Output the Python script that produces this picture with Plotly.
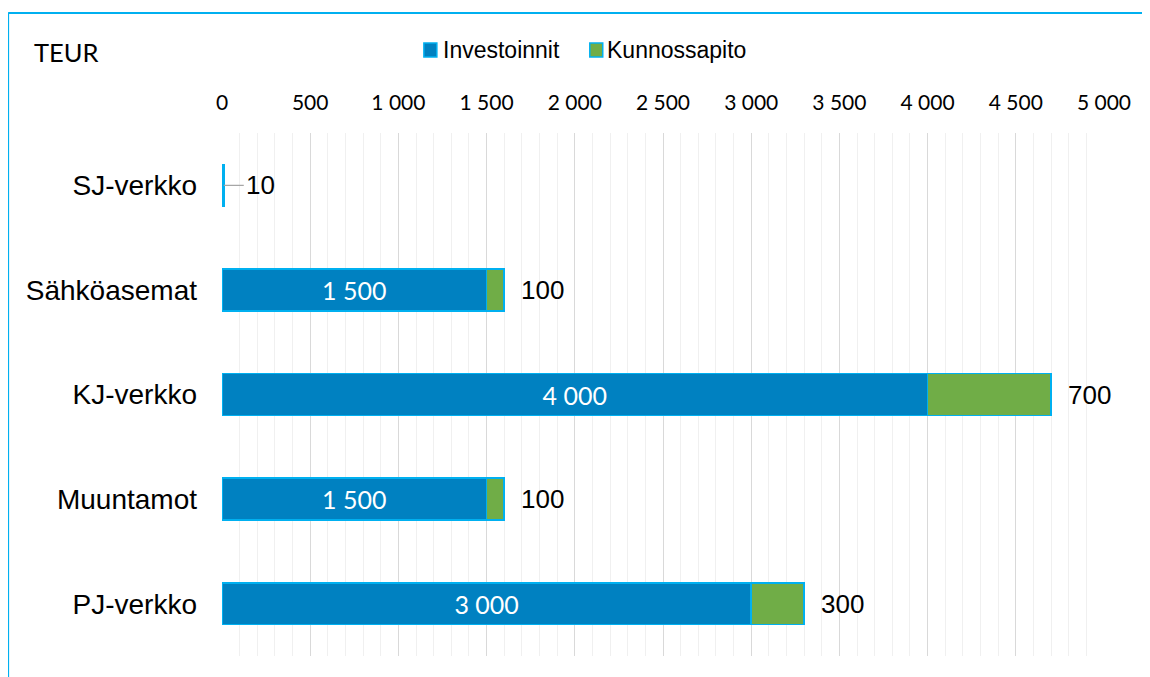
import plotly.graph_objects as go

categories = ["SJ-verkko", "Sähköasemat", "KJ-verkko", "Muuntamot", "PJ-verkko"]
investoinnit = [0, 1500, 4000, 1500, 3000]
kunnossapito = [10, 100, 700, 100, 300]
x_ticks = [0, 500, 1000, 1500, 2000, 2500, 3000, 3500, 4000, 4500, 5000]
series_names = ["Investoinnit", "Kunnossapito"]
unit_label = "TEUR"

BLUE = "#0081C1"
GREEN = "#70AD47"
EDGE = "#00B0F0"

fig = go.Figure()
fig.add_trace(go.Bar(
    y=categories, x=investoinnit, name=series_names[0], orientation="h",
    marker=dict(color=BLUE, line=dict(color=EDGE, width=1.5)),
    texttemplate=["%{x:,d}" if v > 0 else "" for v in investoinnit],
    textposition="inside", insidetextanchor="middle",
    textfont=dict(color="white", size=25, family="Lato"),
    hoverinfo="skip", showlegend=False,
))
fig.add_trace(go.Bar(
    y=categories, x=kunnossapito, name=series_names[1], orientation="h",
    marker=dict(color=GREEN, line=dict(color=EDGE, width=1.5)),
    textposition="none", hoverinfo="skip", showlegend=False,
))

for cat, inv, k in zip(categories, investoinnit, kunnossapito):
    total = inv + k
    if inv == 0:
        fig.add_annotation(x=total, y=cat, xref="x", yref="y", text=str(k),
                           showarrow=True, ax=20, ay=0, xanchor="left",
                           arrowhead=0, arrowwidth=1.2, arrowcolor="#A6A6A6",
                           standoff=0, font=dict(size=26, family="Arial", color="black"))
    else:
        fig.add_annotation(x=total, y=cat, xref="x", yref="y", text=str(k),
                           showarrow=False, xanchor="left", xshift=15,
                           font=dict(size=26, family="Arial", color="black"))

fig.add_annotation(x=-0.2153, y=1.1549, xref="paper", yref="paper", text=unit_label,
                   showarrow=False, xanchor="left", yanchor="middle",
                   font=dict(size=25.5, family="Lato", color="black"))

# custom legend (swatch + label)
legend_items = [(series_names[0], BLUE, 0.2289, 0.2436, 0.2504),
                (series_names[1], GREEN, 0.4170, 0.4317, 0.4363)]
for name, col, sx0, sx1, tx in legend_items:
    fig.add_shape(type="rect", xref="paper", yref="paper", x0=sx0, x1=sx1,
                  y0=1.1453, y1=1.1721, fillcolor=col, line=dict(color=EDGE, width=1.5))
    fig.add_annotation(x=tx, y=1.1587, xref="paper", yref="paper", text=name,
                       showarrow=False, xanchor="left", yanchor="middle", xshift=-2,
                       font=dict(size=23, family="Arial", color="black"))

# outer frame (left and top edges visible)
fig.add_shape(type="line", xref="paper", yref="paper", x0=-0.2425, x1=-0.2425,
              y0=1.2294, y1=-0.2, line=dict(color=EDGE, width=2))
fig.add_shape(type="line", xref="paper", yref="paper", x0=-0.2425, x1=1.2,
              y0=1.2294, y1=1.2294, line=dict(color=EDGE, width=2))

fig.update_layout(
    width=1142, height=669,
    margin=dict(l=214, r=45.5, t=125, b=21),
    paper_bgcolor="white", plot_bgcolor="white",
    barmode="stack", bargap=0.6,
    separators=", ",
    showlegend=False,
    xaxis=dict(side="top", range=[0, 5000], tickvals=x_ticks, tickformat=",d",
               showgrid=True, gridcolor="#D9D9D9", gridwidth=1, zeroline=False,
               ticks="", ticklabelstandoff=18,
               tickfont=dict(size=21, family="Lato", color="black"),
               minor=dict(dtick=100, showgrid=True, gridcolor="#F0F0F0", gridwidth=1),
               fixedrange=True),
    yaxis=dict(autorange="reversed", showgrid=False, zeroline=False, ticks="",
               ticklabelstandoff=24,
               tickfont=dict(size=28, family="Arial", color="black"),
               fixedrange=True),
)

fig.write_html("out.html")
